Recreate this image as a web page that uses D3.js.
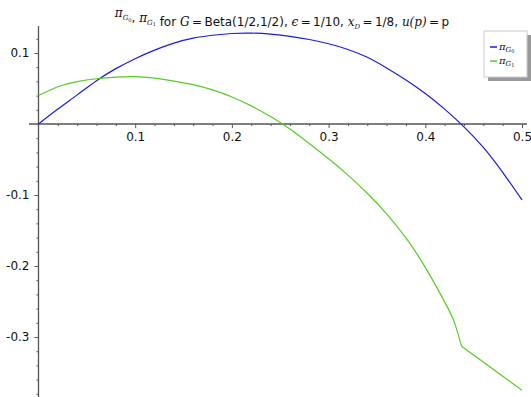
<!DOCTYPE html>
<html>
<head>
<meta charset="utf-8">
<script src="https://cdn.jsdelivr.net/npm/d3@7"></script>
<style>
  body { margin: 0; background: #fff; }
  text { font-family: "DejaVu Sans", sans-serif; fill: #111; }
  .math { font-family: "DejaVu Serif", serif; font-style: italic; }
</style>
</head>
<body>
<script>
// values
let blueX = [0, .02, .04, .06, .08, .10, .12, .14, .16, .18, .20, .22, .24, .26, .28, .30, .32, .34, .36, .38, .40, .42, .44, .46, .48, .50];
let blueY = [0, .021, .041, .061, .078, .092, .104, .114, .121, .125, .1275, .128, .1265, .1235, .119, .113, .105, .094, .079, .062, .043, .021, -.004, -.033, -.068, -.107];

let greenX = [0, .02, .04, .06, .08, .10, .12, .14, .16, .18, .20, .22, .24, .26, .28, .30, .32, .34, .36, .38, .40, .42, .43, .4375];
let greenY = [.040, .0525, .0598, .0637, .066, .0667, .0645, .0605, .0555, .048, .038, .0255, .0105, -.007, -.0275, -.049, -.072, -.0975, -.1265, -.1605, -.202, -.2505, -.279, -.313];
let greenTailX = [.4375, .50];
let greenTailY = [-.313, -.375];

let xTicks = [0.1, 0.2, 0.3, 0.4, 0.5];
let yTicks = [-0.3, -0.2, -0.1, 0.1];

let width = 531, height = 397;

let svg = d3.select('body').append('svg').attr('width', width).attr('height', height);

let x = d3.scaleLinear().domain([0, 0.5]).range([38.5, 522]);
let y = d3.scaleLinear().domain([0, 0.1]).range([124, 53]);

let axisColor = "#555";

// minor ticks every 0.02
let xMinor = d3.range(1, 26).map(function(i) { return +(i * 0.02).toFixed(2); }).filter(function(v) { return Math.abs(v * 10 - Math.round(v * 10)) > 1e-6; });
let yMinor = d3.range(-19, 7).map(function(i) { return +(i * 0.02).toFixed(2); }).filter(function(v) { return Math.abs(v * 10 - Math.round(v * 10)) > 1e-6; });

// x axis
let gx = svg.append("g").attr("transform", "translate(0," + y(0) + ")");
gx.call(d3.axisBottom(x).tickValues(xTicks).tickSize(4).tickPadding(4).tickSizeOuter(0).tickFormat(function(d) { return String(d); }));
gx.append("g").call(d3.axisBottom(x).tickValues(xMinor).tickSize(2).tickFormat(""));
gx.selectAll(".domain").remove();
gx.append("line").attr("x1", 29).attr("x2", 527).attr("stroke", axisColor).attr("stroke-width", 1.3);

// y axis
let gy = svg.append("g").attr("transform", "translate(" + x(0) + ",0)");
gy.call(d3.axisLeft(y).tickValues(yTicks).tickSize(4).tickPadding(5).tickSizeOuter(0).tickFormat(function(d) { return String(d); }));
gy.append("g").call(d3.axisLeft(y).tickValues(yMinor).tickSize(2).tickFormat(""));
gy.selectAll(".domain").remove();
gy.append("line").attr("y1", 26).attr("y2", 397).attr("stroke", axisColor).attr("stroke-width", 1.3);

svg.selectAll(".tick line").attr("stroke", axisColor);
svg.selectAll(".tick text").style("font-size", "12px").style("font-family", "DejaVu Sans").attr("fill", "#222");

// curves
let line = d3.line().x(function(d) { return x(d[0]); }).y(function(d) { return y(d[1]); }).curve(d3.curveNatural);
let straight = d3.line().x(function(d) { return x(d[0]); }).y(function(d) { return y(d[1]); });

let blueColor = "#1a1ae6";
let greenColor = "#55cc22";

svg.append("path").datum(d3.zip(blueX, blueY)).attr("d", line)
  .attr("fill", "none").attr("stroke", blueColor).attr("stroke-width", 1.2);
svg.append("path").datum(d3.zip(greenX, greenY)).attr("d", line)
  .attr("fill", "none").attr("stroke", greenColor).attr("stroke-width", 1.2);
svg.append("path").datum(d3.zip(greenTailX, greenTailY)).attr("d", straight)
  .attr("fill", "none").attr("stroke", greenColor).attr("stroke-width", 1.2);

// title
let eq = "\u2009=\u2009";
let title = svg.append("text").attr("x", 282).attr("y", 17).attr("text-anchor", "middle").style("font-size", "12px");
function piG(t, k) {
  t.append("tspan").attr("class", "math").text("π");
  t.append("tspan").attr("class", "math").attr("dy", 3).style("font-size", "7px").text("G");
  t.append("tspan").attr("class", "math").attr("dy", 1.5).style("font-size", "5px").style("font-style", "normal").text(k);
  t.append("tspan").attr("dy", -4.5).text("");
}
piG(title, "0");
title.append("tspan").text(", ");
piG(title, "1");
title.append("tspan").text(" for ");
title.append("tspan").attr("class", "math").text("G");
title.append("tspan").text(eq + "Beta(1/2,1/2), ");
title.append("tspan").attr("class", "math").text("ϵ");
title.append("tspan").text(eq + "1/10, ");
title.append("tspan").attr("class", "math").text("x");
title.append("tspan").attr("class", "math").attr("dy", 2.5).style("font-size", "7px").text("D");
title.append("tspan").attr("dy", -2.5).text(eq + "1/8, ");
title.append("tspan").attr("class", "math").text("u(p)");
title.append("tspan").text(eq + "p");

// legend
let legendNames = ["0", "1"];
let legendColors = [blueColor, greenColor];
let lg = svg.append("g").attr("transform", "translate(484,31)");
lg.append("rect").attr("x", 4).attr("y", 4).attr("width", 43).attr("height", 46).attr("fill", "#999");
lg.append("rect").attr("width", 43).attr("height", 46).attr("fill", "#fff").attr("stroke", "#ccc");
legendNames.forEach(function(k, i) {
  let ly = 16 + i * 14;
  lg.append("line").attr("x1", 6).attr("x2", 13).attr("y1", ly).attr("y2", ly)
    .attr("stroke", legendColors[i]).attr("stroke-width", 1.5);
  let t = lg.append("text").attr("x", 15).attr("y", ly + 3).style("font-size", "10px").attr("fill", "#333");
  t.append("tspan").attr("class", "math").text("π");
  t.append("tspan").attr("class", "math").attr("dy", 2).style("font-size", "7px").text("G");
  t.append("tspan").attr("class", "math").attr("dy", 1).style("font-size", "5px").style("font-style", "normal").text(k);
});
</script>
</body>
</html>
